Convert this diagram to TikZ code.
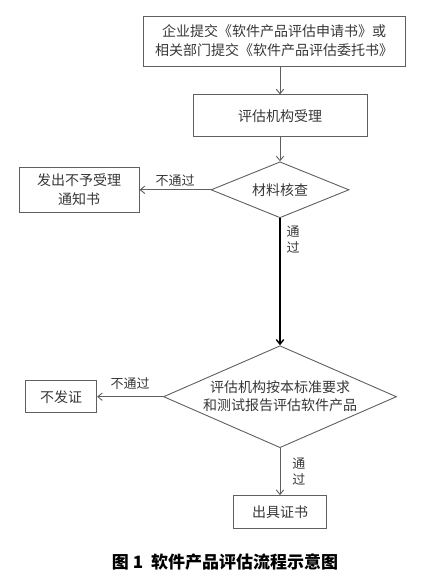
\documentclass[tikz,border=0pt]{standalone}
\usepackage{fontspec}
\setmainfont{Noto Sans CJK SC}
\usetikzlibrary{arrows.meta,positioning,shapes.geometric}
\definecolor{lineG}{RGB}{95,95,95}
\definecolor{textG}{RGB}{55,55,55}
\tikzset{
  box/.style={rectangle, draw=lineG, line width=0.9pt, align=center, inner sep=0pt,
              text=textG, font=\fontsize{14}{19}\selectfont},
  judge/.style={diamond, aspect=#1, draw=lineG, line width=0.9pt, align=center, inner sep=0pt,
                text=textG, font=\fontsize{14}{18}\selectfont},
  arr/.style={-{Straight Barb[length=1.6mm,width=2.6mm]}, line width=0.9pt, draw=lineG},
  tag/.style={font=\fontsize{13}{16}\selectfont, text=textG, inner sep=1pt, align=center},
}
\begin{document}
\begin{tikzpicture}[x=1pt,y=-1pt]
    \useasboundingbox (0,0) rectangle (447,580);
    \node[box, minimum width=262pt, minimum height=50pt] (apply) at (274,41)
      {企业提交《软件产品评估申请书》或\\相关部门提交《软件产品评估委托书》};
    \node[box, minimum width=174pt, minimum height=42pt, below=28pt of apply, xshift=6pt] (accept) {评估机构受理};
    \node[judge=2.5, minimum width=138pt, minimum height=56pt, below=24pt of accept] (check) {材料核查};
    \node[box, minimum width=120pt, minimum height=45pt, left=71pt of check] (reject) {发出不予受理\\通知书};
    \node[judge=2.3, minimum width=233pt, minimum height=102pt, below=127pt of check] (review)
      {评估机构按本标准要求\\和测试报告评估软件产品};
    \node[box, minimum width=71pt, minimum height=32pt, left=66pt of review] (nocert) {不发证};
    \node[box, minimum width=93pt, minimum height=33pt, below=47pt of review] (cert) {出具证书};
    \node[font=\fontsize{17}{20}\selectfont\bfseries] (caption) at (225,562) {图 1\ \ 软件产品评估流程示意图};
    \draw[arr] (apply.south -| accept) -- (accept.north);
    \draw[arr] (accept) -- (check);
    \draw[arr] (check) -- node[tag, above=2pt] {不通过} (reject);
    \draw[arr, draw=black, line width=1.4pt] (check) -- node[tag, right=5pt, pos=0.17] {通\\过} (review);
    \draw[arr] (review) -- node[tag, above=6pt] {不通过} (nocert);
    \draw[arr] (review) -- node[tag, right=11pt] {通\\过} (cert);
  \end{tikzpicture}
\end{document}
